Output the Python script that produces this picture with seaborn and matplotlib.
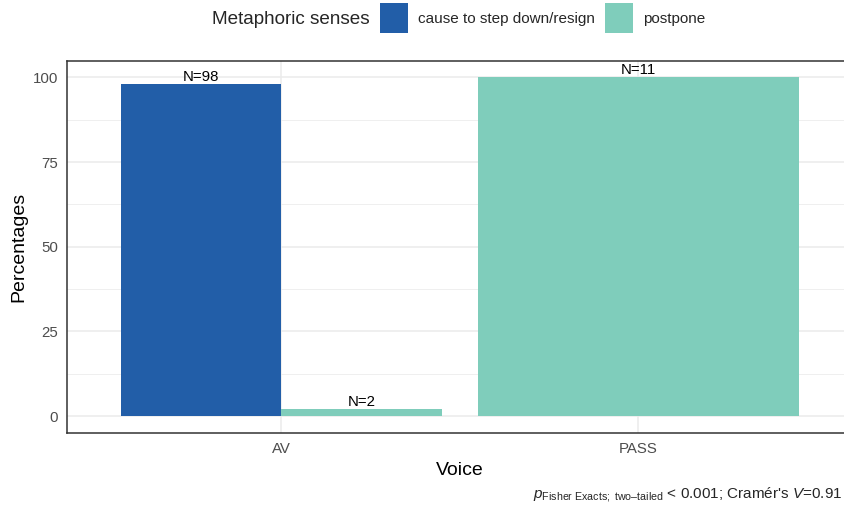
import matplotlib
matplotlib.use("Agg")
import matplotlib.pyplot as plt
from matplotlib.patches import Patch
from matplotlib.ticker import MultipleLocator
import seaborn as sns
import pandas as pd

# Data
voice = ["AV", "AV", "PASS"]
sense = ["cause to step down/resign", "postpone", "postpone"]
percent = [98, 2, 100]
counts = [98, 2, 11]
voice_order = ["AV", "PASS"]
sense_order = ["cause to step down/resign", "postpone"]
colors = ["#225EA8", "#7FCDBB"]

df = pd.DataFrame({"Voice": voice, "Sense": sense, "Percentages": percent, "N": counts})
palette = dict(zip(sense_order, colors))

sns.set_theme(style="white")
plt.rcParams["font.family"] = ["Liberation Sans", "DejaVu Sans"]
plt.rcParams["mathtext.fontset"] = "custom"
plt.rcParams["mathtext.rm"] = "Liberation Sans"
plt.rcParams["mathtext.it"] = "Liberation Sans:italic"

fig = plt.figure(figsize=(8.44, 5.09), dpi=100)
W, H = 844, 509
left_px, right_px, top_px, bottom_px = 67, 852.5, 60.5, 433
ax = fig.add_axes([left_px / W, 1 - bottom_px / H, (right_px - left_px) / W, (bottom_px - top_px) / H])

sns.barplot(data=df, x="Voice", y="Percentages", hue="Sense", order=voice_order,
            hue_order=sense_order, palette=palette, width=0.9, dodge=True,
            saturation=1, legend=False, errorbar=None, linewidth=0,
            edgecolor="none", ax=ax, zorder=3)

# A category with a single sense takes the full dodge width
for cont in ax.containers:
    for bar in cont:
        cx = bar.get_x() + bar.get_width() / 2
        cat = voice_order[int(round(cx))]
        n_levels = (df["Voice"] == cat).sum()
        if n_levels == 1:
            pos = round(cx)
            bar.set_x(pos - 0.45)
            bar.set_width(0.9)

# Count labels above bars
for i, lvl in enumerate(sense_order):
    cont = ax.containers[i]
    for bar in cont:
        cx = bar.get_x() + bar.get_width() / 2
        cat = voice_order[int(round(cx))]
        row = df[(df["Voice"] == cat) & (df["Sense"] == lvl)]
        if row.empty:
            continue
        ax.annotate(f"N={int(row['N'].iloc[0])}", (cx, bar.get_height()),
                    xytext=(0, 2.4), textcoords="offset points",
                    ha="center", va="baseline", fontsize=10.8, color="black", zorder=4)

ax.set_ylim(-5, 105)
ax.set_xlim(-0.6, 1.6)
ax.yaxis.set_major_locator(MultipleLocator(25))
ax.yaxis.set_minor_locator(MultipleLocator(12.5))
ax.grid(True, which="major", color="#EBEBEB", linewidth=1.1, zorder=0)
ax.grid(True, which="minor", axis="y", color="#EBEBEB", linewidth=0.55, zorder=0)
ax.set_axisbelow(True)

for sp in ax.spines.values():
    sp.set_color("#333333")
    sp.set_linewidth(1.1)

ax.tick_params(axis="both", which="major", direction="out", length=3.5, width=0.8,
               color="#333333", labelcolor="#4D4D4D", labelsize=10.8, pad=3)
ax.tick_params(axis="both", which="minor", length=0)
ax.set_xlabel("Voice", fontsize=14, color="black", labelpad=4)
ax.set_ylabel("Percentages", fontsize=14, color="black", labelpad=4)

# Legend across the top
fig.text(212 / W, 1 - 19 / H, "Metaphoric senses", fontsize=13.6, ha="left", va="center")
handles = [Patch(facecolor=c, edgecolor="none") for c in colors]
fig.legend(handles, sense_order, loc="center left", bbox_to_anchor=(380 / W, 1 - 18 / H),
           ncol=2, frameon=False, fontsize=11, handlelength=1.83, handleheight=2.6,
           handletextpad=0.65, columnspacing=0.65, borderaxespad=0, borderpad=0)

# Test statistics caption
fig.text(0.998, 1 - 494 / H,
         r"$p_{\mathrm{Fisher\ Exacts;\ two\text{–}tailed}}$ < 0.001; Cramér's $V$=0.91",
         fontsize=11, ha="right", va="center")

fig.savefig("out.png", dpi=100)
